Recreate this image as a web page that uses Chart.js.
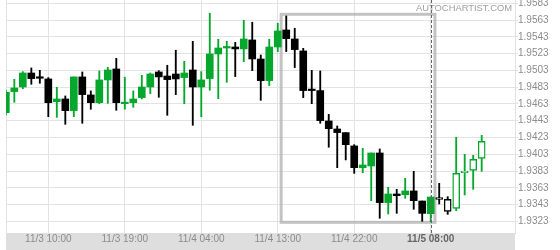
<!DOCTYPE html>
<html>
<head>
<meta charset="utf-8">
<script src="https://cdn.jsdelivr.net/npm/chart.js@4.4.1/dist/chart.umd.min.js"></script>
<style>
  html, body { margin: 0; padding: 0; background: #fff; }
</style>
</head>
<body>
<canvas id="chart" width="560" height="250"></canvas>
<script>
// hourly candles, 11/3 05:00 .. 11/5 14:00
const opens = [1.94526, 1.94777, 1.94832, 1.94999, 1.94944, 1.94928, 1.94657, 1.94689, 1.94550, 1.94952,
  1.94737, 1.94645, 1.94916, 1.95047, 1.94633, 1.94645, 1.94705, 1.94832, 1.95011, 1.94963,
  1.94987, 1.94944, 1.95035, 1.94832, 1.94932, 1.95226, 1.95297, 1.95309, 1.95286, 1.95393,
  1.95166, 1.94908, 1.95309, 1.95512, 1.95405, 1.95262, 1.94796, 1.94789, 1.94427, 1.94331,
  1.94288, 1.94129, 1.93870, 1.93890, 1.94045, 1.93453, 1.93556, 1.93548, 1.93592, 1.93472,
  1.93321, 1.93512, 1.93492, 1.93385, 1.93810, 1.93838, 1.93981];
const highs = [1.94796, 1.94924, 1.95015, 1.95059, 1.95031, 1.94944, 1.94828, 1.94725, 1.94952, 1.95011,
  1.94785, 1.95023, 1.95067, 1.95174, 1.94948, 1.94785, 1.94971, 1.94999, 1.95027, 1.95091,
  1.95270, 1.95138, 1.95377, 1.95015, 1.95711, 1.95401, 1.95377, 1.95365, 1.95627, 1.95604,
  1.95214, 1.95401, 1.95592, 1.95679, 1.95532, 1.95293, 1.95031, 1.95023, 1.94506, 1.94367,
  1.94288, 1.94144, 1.94101, 1.94045, 1.94093, 1.93635, 1.93612, 1.93743, 1.93826, 1.93472,
  1.93520, 1.93683, 1.93524, 1.94232, 1.94029, 1.94017, 1.94256];
const lows = [1.94498, 1.94649, 1.94812, 1.94864, 1.94876, 1.94478, 1.94470, 1.94387, 1.94478, 1.94399,
  1.94566, 1.94633, 1.94637, 1.94554, 1.94566, 1.94590, 1.94689, 1.94753, 1.94709, 1.94494,
  1.94741, 1.94633, 1.94375, 1.94478, 1.94793, 1.94693, 1.94888, 1.94956, 1.95134, 1.95027,
  1.94673, 1.94848, 1.95254, 1.95254, 1.95063, 1.94705, 1.94633, 1.94399, 1.94113, 1.93870,
  1.93962, 1.93802, 1.93810, 1.93476, 1.93266, 1.93317, 1.93325, 1.93504, 1.93373, 1.93230,
  1.93226, 1.93437, 1.93313, 1.93357, 1.93544, 1.93612, 1.93826];
const closes = [1.94769, 1.94820, 1.94999, 1.94932, 1.94936, 1.94645, 1.94689, 1.94550, 1.94952, 1.94741,
  1.94645, 1.94916, 1.95035, 1.94645, 1.94641, 1.94689, 1.94832, 1.94987, 1.94952, 1.94920,
  1.94928, 1.94999, 1.94832, 1.94916, 1.95226, 1.95297, 1.95309, 1.95286, 1.95405, 1.95166,
  1.94908, 1.95309, 1.95500, 1.95409, 1.95278, 1.94789, 1.94789, 1.94431, 1.94335, 1.94288,
  1.94144, 1.93870, 1.93902, 1.94045, 1.93453, 1.93556, 1.93536, 1.93592, 1.93476, 1.93325,
  1.93520, 1.93492, 1.93349, 1.93802, 1.93826, 1.93969, 1.94184];

const tickIdx = [5, 14, 23, 32, 41, 50];
const tickLabels = ["11/3 10:00", "11/3 19:00", "11/4 04:00", "11/4 13:00", "11/4 22:00", "11/5 08:00"];
const priceTicks = [1.9323, 1.9343, 1.9363, 1.9383, 1.9403, 1.9423, 1.9443,
  1.9463, 1.9483, 1.9503, 1.9523, 1.9543, 1.9563, 1.9583];

// pattern box (candle index / price) and the "now" marker
const patternBox = { from: 32.4, to: 50.5, top: 1.95699, bottom: 1.93218 };
const markerIdx = 50;
const liveFrom = 51; // candles after the marker are drawn hollow

const GREEN = "#05a82c";
const GRID = "#e3e3e3";
const FONT = "'Liberation Sans', Arial, sans-serif";

const colors = closes.map((c, i) => c >= opens[i] ? GREEN : "#000");
const bodies = opens.map((o, i) => ({ x: i, y: [o, closes[i]] }));
const wicks = lows.map((l, i) => ({ x: i, y: [l, highs[i]] }));

// --- extra drawing: axis band, box, marker, watermark ---
const decor = {
  id: "decor",
  beforeDraw(chart) {
    const { ctx, chartArea: a } = chart;
    ctx.save();
    ctx.fillStyle = "#dedede";
    ctx.fillRect(a.left, a.bottom, a.right - a.left, chart.height - a.bottom);
    ctx.restore();
  },
  beforeDatasetsDraw(chart) {
    const { ctx, chartArea: a, scales: { x, y } } = chart;
    ctx.save();
    ctx.strokeStyle = GRID;
    ctx.lineWidth = 1;
    ctx.beginPath();
    ctx.moveTo(a.left + 0.5, a.top);
    ctx.lineTo(a.left + 0.5, a.bottom);
    ctx.stroke();
    const l = x.getPixelForValue(patternBox.from), r = x.getPixelForValue(patternBox.to);
    const t = y.getPixelForValue(patternBox.top), b = y.getPixelForValue(patternBox.bottom);
    ctx.strokeStyle = "rgba(175,175,175,0.75)";
    ctx.lineWidth = 3;
    ctx.strokeRect(l, t, r - l, b - t);
    ctx.restore();
  },
  afterDatasetsDraw(chart) {
    const { ctx, chartArea: a, scales: { x } } = chart;
    ctx.save();
    ctx.font = "9.4px " + FONT;
    ctx.fillStyle = "#a0a0a0";
    ctx.textAlign = "right";
    ctx.textBaseline = "alphabetic";
    ctx.fillText("AUTOCHARTIST.COM", a.right - 3, 11);
    const px = Math.round(x.getPixelForValue(markerIdx)) + 0.5;
    ctx.strokeStyle = "#666";
    ctx.lineWidth = 1;
    ctx.setLineDash([3, 2]);
    ctx.beginPath();
    ctx.moveTo(px, a.top);
    ctx.lineTo(px, a.bottom);
    ctx.stroke();
    ctx.restore();
  }
};

new Chart(document.getElementById("chart"), {
  type: "bar",
  data: {
    datasets: [
      {
        data: bodies, grouped: false, barThickness: 7, minBarLength: 1.5, borderSkipped: false,
        backgroundColor: colors.map((c, i) => i >= liveFrom ? "#fff" : c),
        borderColor: colors,
        borderWidth: colors.map((c, i) => i >= liveFrom ? 1.4 : 0),
        clip: 0, order: 1
      },
      {
        data: wicks, grouped: false, barThickness: 1.2, borderWidth: 0,
        backgroundColor: colors, clip: 0, order: 2
      }
    ]
  },
  options: {
    responsive: false,
    animation: false,
    layout: { padding: { left: 6, top: 0, right: 0, bottom: 0 } },
    plugins: { legend: { display: false }, tooltip: { enabled: false } },
    scales: {
      x: {
        type: "linear", min: 0.02, max: 59.92, offset: false,
        grid: { color: GRID, drawTicks: false, offset: false },
        border: { display: false },
        afterBuildTicks: s => { s.ticks = tickIdx.map(v => ({ value: v })); },
        afterFit: s => { s.height = 17; s.paddingLeft = 0; s.paddingRight = 0; },
        ticks: {
          autoSkip: false, maxRotation: 0, padding: 0,
          callback: v => tickLabels[tickIdx.indexOf(v)] || "",
          color: c => c.tick && c.tick.value === markerIdx ? "#666" : "#8c8c8c",
          font: c => ({ family: FONT, size: 10, weight: c.tick && c.tick.value === markerIdx ? "bold" : "normal" })
        }
      },
      y: {
        position: "right", min: 1.930906, max: 1.958694,
        grid: { color: GRID, tickLength: 3 },
        border: { display: true, color: GRID },
        afterBuildTicks: s => { s.ticks = priceTicks.map(v => ({ value: v })); },
        afterFit: s => { s.width = 45; s.paddingTop = 0; s.paddingBottom = 0; },
        ticks: {
          autoSkip: false, padding: 0, color: "#8c8c8c",
          font: { family: FONT, size: 10 },
          callback: v => v.toFixed(4)
        }
      }
    }
  },
  plugins: [decor]
});
</script>
</body>
</html>
